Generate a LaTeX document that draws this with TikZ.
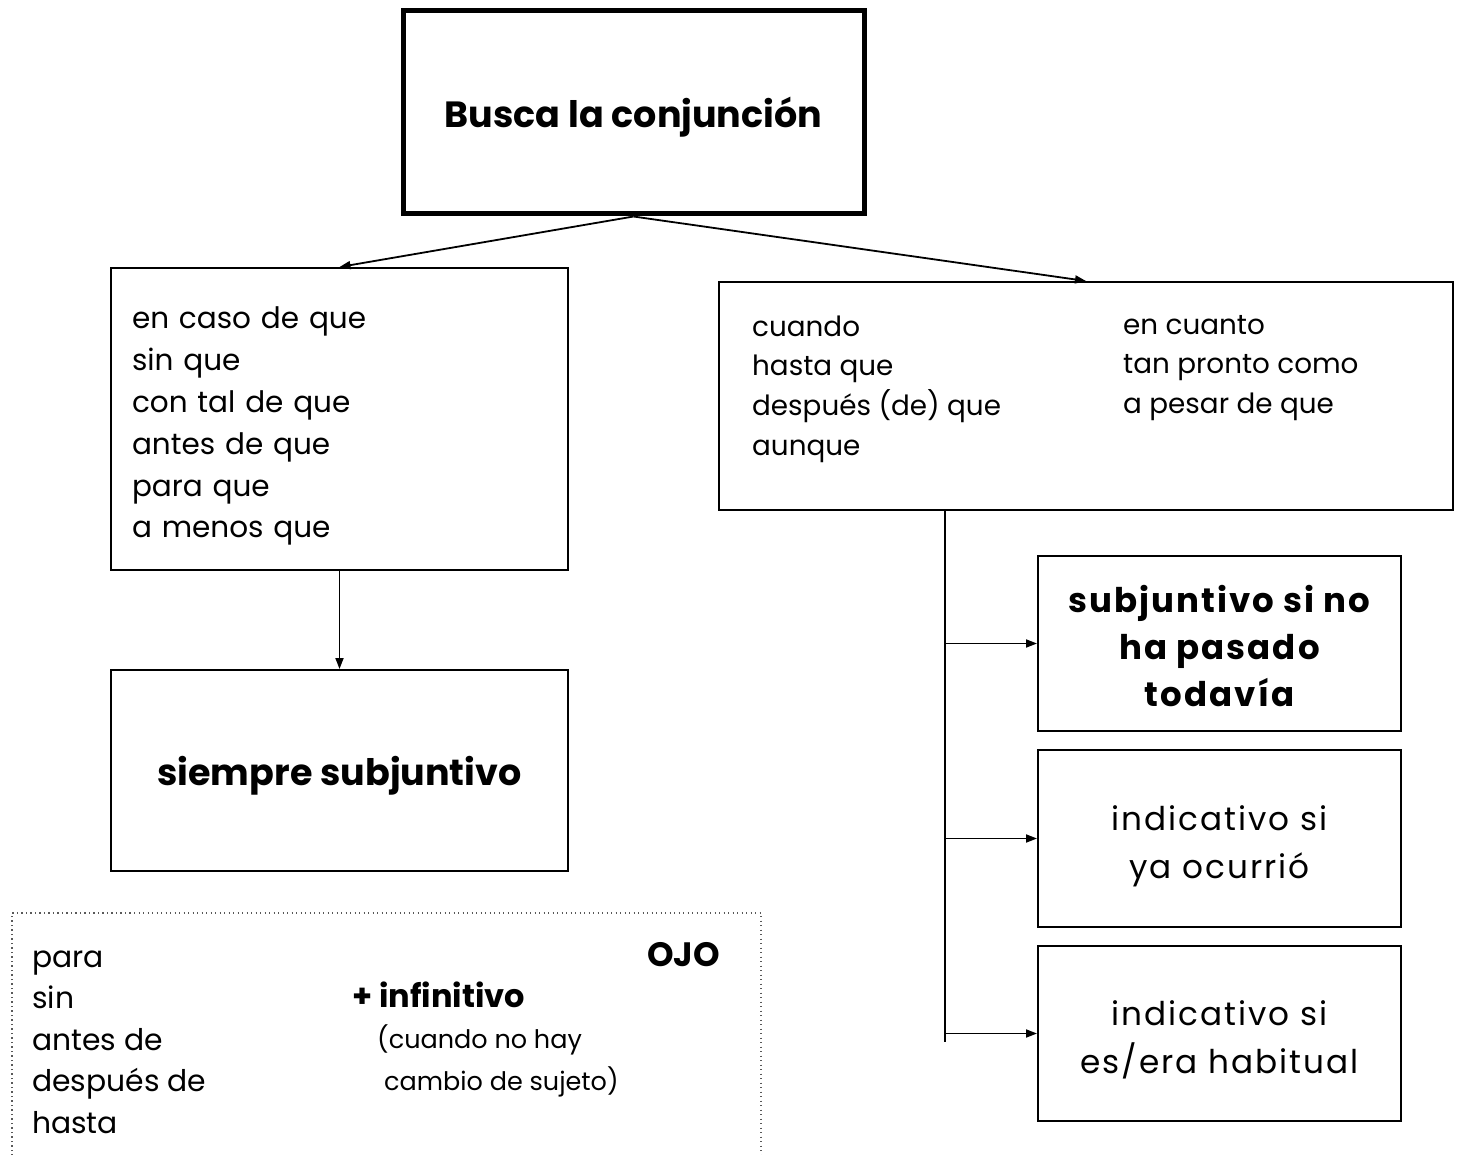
\documentclass[tikz,border=0pt]{standalone}
\usepackage{fontspec}
\setmainfont{Poppins}
\usetikzlibrary{arrows.meta}
\newcommand{\topst}{\rule{0pt}{40pt}}
\newcommand{\botst}[1]{\rule[-#1pt]{0pt}{#1pt}}
\tikzset{
  box/.style={draw, line width=2pt, inner sep=0pt, text=black},
  conn/.style={line width=1.8pt, -{Triangle[length=11pt,width=8pt]}},
  plain/.style={line width=1.8pt},
  listtxt/.style={align=left, inner sep=0pt, anchor=north west},
  spaced/.style={font=\fontsize{32.7}{48}\selectfont\addfontfeature{LetterSpace=6}, align=center},
  spacedb/.style={font=\fontsize{34}{47}\selectfont\bfseries\addfontfeature{LetterSpace=6}, align=center},
}
\begin{document}
\begin{tikzpicture}[x=1pt,y=-1pt]
\useasboundingbox (0,0) rectangle (1460,1155);
\fill[white] (0,0) rectangle (1460,1155);

\node[box, line width=5pt, minimum width=461pt, minimum height=203pt,
      font=\fontsize{36.5}{40}\selectfont\bfseries] (top) at (633.5,112.5)
  {\topst\botst{9}Busca la conjunción};

\node[box, minimum width=457pt, minimum height=302pt, text width=415pt, align=left,
      font=\fontsize{29.5}{41.8}\selectfont] (left1) at (339.5,419)
  {\topst en caso de que\\sin que\\con tal de que\\antes de que\\para que\\a menos que\botst{11}};

\node[box, minimum width=457pt, minimum height=201pt,
      font=\fontsize{36.5}{40}\selectfont\bfseries] (left2) at (339.5,770.5)
  {\topst\botst{11}siempre subjuntivo};

\node[box, minimum width=734pt, minimum height=228pt] (right) at (1086,396) {};
\node[listtxt, font=\fontsize{27.8}{39.7}\selectfont] (colA) at (752,296)
  {\topst cuando\\hasta que\\después (de) que\\aunque};
\node[listtxt, font=\fontsize{27.8}{39.5}\selectfont] (colB) at (1123,294)
  {\topst en cuanto\\tan pronto como\\a pesar de que};

\node[box, minimum width=363pt, minimum height=175pt, spacedb] (r1) at (1219.5,643.5)
  {\topst subjuntivo si no\\ha pasado\\todavía\botst{9}};
\node[box, minimum width=363pt, minimum height=177pt, spaced] (r2) at (1219.5,838.5)
  {\topst indicativo si\\ya ocurrió\botst{9}};
\node[box, minimum width=363pt, minimum height=175pt, spaced] (r3) at (1219.5,1033.5)
  {\topst indicativo si\\es/era habitual\botst{9}};

% connectors
\draw[conn] (top.south) -- (left1.north);
\draw[conn] (top.south) -- (right.north);
\draw[conn] (left1.south) -- (left2.north);
\coordinate (trunkT) at (945,510);
\coordinate (trunkB) at (945,1042);
\draw[plain] (trunkT) -- (trunkB);
\draw[conn] (trunkT |- r1.west) -- (r1.west);
\draw[conn] (trunkT |- r2.west) -- (r2.west);
\draw[conn] (trunkT |- r3.west) -- (r3.west);

% OJO box
\draw[line width=1.3pt, gray!70!black, dash pattern=on 1.3pt off 3.2pt]
  (12,1160) -- (12,913) -- (761,913) -- (761,1160);
\node[listtxt, font=\fontsize{29.8}{41.5}\selectfont] (ojoL) at (32,927)
  {\topst para\\sin\\antes de\\después de\\hasta};
\node[inner sep=0pt, anchor=base east, font=\fontsize{33.8}{36}\selectfont\bfseries] (ojo) at (720,966) {OJO};
\node[inner sep=0pt, anchor=base west, font=\fontsize{32}{36}\selectfont\bfseries] (inf) at (352,1007) {+ infinitivo};
\node[listtxt, font=\fontsize{25.5}{42}\selectfont] (cuando) at (377,1008)
  {\topst(cuando no hay\\\hspace*{7pt}cambio de sujeto)};
\end{tikzpicture}
\end{document}
